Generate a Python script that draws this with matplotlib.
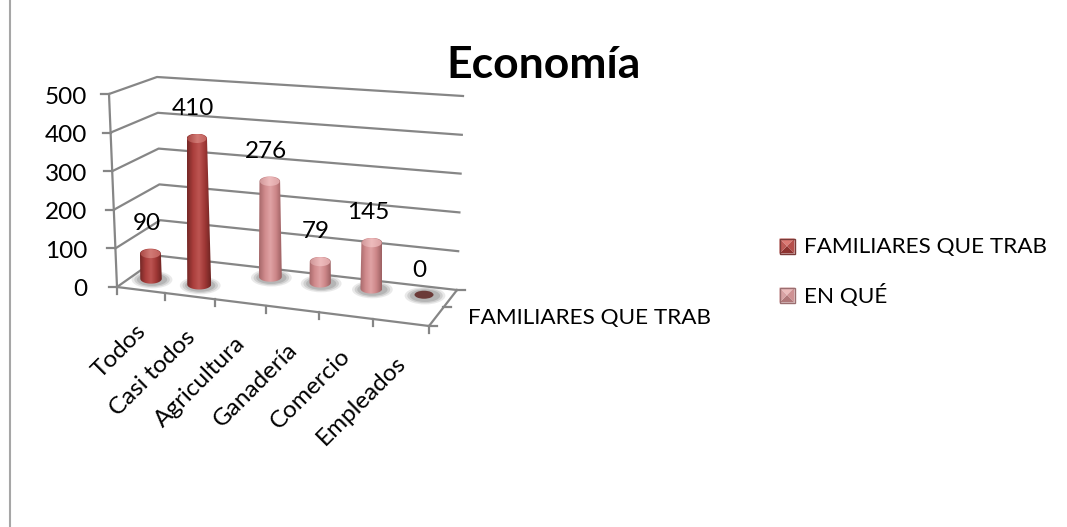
import numpy as np
import matplotlib
matplotlib.use("Agg")
import matplotlib.pyplot as plt
from matplotlib.colors import LinearSegmentedColormap
from matplotlib.patches import Ellipse, Polygon, PathPatch, Rectangle
from matplotlib.path import Path

plt.rcParams['font.family'] = ['Lato', 'DejaVu Sans']

categories = ["Todos", "Casi todos", "Agricultura", "Ganadería", "Comercio", "Empleados"]
familiares = [90, 410, None, None, None, None]
en_que = [None, None, 276, 79, 145, 0]
value_ticks = [0, 100, 200, 300, 400, 500]
series_names = ["FAMILIARES QUE TRAB", "EN QUÉ"]
depth_label = "FAMILIARES QUE TRAB"
title = "Economía"

GRID = "#868686"
DARK = ["#752826", "#aa3e3c", "#bd5552", "#a03836", "#6e2422"]
PINK = ["#a5686a", "#d08a8c", "#e0a3a5", "#cc8688", "#9c6062"]

W, H = 1067, 527
fig = plt.figure(figsize=(W / 100, H / 100), dpi=100)
ax = fig.add_axes([0, 0, 1, 1])

# corners of the 3d box in picture pixels
front_left = ((117, 287), (109, 94))
back_left = ((161, 256), (157, 77))
back_right = ((457, 290), (463, 96))
front_right = (429, 326)
MAXV = 500.0
PX_PER_UNIT = 0.378
SINK = 9


def wall(corner, v):
    a, b = np.array(corner[0], float), np.array(corner[1], float)
    return a + (b - a) * v / MAXV


def homography(pts):
    # unit square -> floor quad
    src = [(0, 0), (1, 0), (1, 1), (0, 1)]
    A, b = [], []
    for (x, y), (X, Y) in zip(src, pts):
        A.append([x, y, 1, 0, 0, 0, -x * X, -y * X])
        A.append([0, 0, 0, x, y, 1, -x * Y, -y * Y])
        b += [X, Y]
    return np.append(np.linalg.solve(np.array(A, float), np.array(b, float)), 1).reshape(3, 3)


FLOOR = homography([front_left[0], front_right, back_right[0], back_left[0]])


def floor(u, v):
    p = FLOOR @ np.array([u, v, 1.0])
    return p[:2] / p[2]


def gradient_patch(path, colors, x0, x1, y0, y1, zorder):
    ramp = LinearSegmentedColormap.from_list("r", colors)
    im = ax.imshow(np.linspace(0, 1, 64).reshape(1, -1), cmap=ramp, extent=(x0, x1, y1, y0),
                   aspect="auto", zorder=zorder, interpolation="bilinear")
    im.set_clip_path(PathPatch(path, transform=ax.transData))


def arc(cx, cy, rx, ry, start, stop, n=24):
    t = np.linspace(start, stop, n)
    return np.c_[cx + rx * np.cos(t), cy + ry * np.sin(t)]


def cylinder(cat, value, series, colors, zorder):
    depth = [0.33, 0.77][series]
    shift = [0.40, 0.5][series]
    bx, by = floor((cat + shift) / len(categories), depth)
    rx, ry = 10.5, 5
    # soft shadow on the floor
    for k, a in zip([1.75, 1.5, 1.25], [0.14, 0.2, 0.25]):
        ax.add_patch(Ellipse((bx + 1, by + 1), 2 * rx * k + 4, 2 * ry * k, fc="#6a6a6a", ec="none",
                             alpha=a, zorder=zorder))
    h = max(0, value * PX_PER_UNIT - SINK)
    if h == 0:
        ax.add_patch(Ellipse((bx, by), 2 * rx - 2, 2 * ry - 2, fc="#6b3a38", ec="none", zorder=zorder + 1))
        return bx - 1, by + 6
    tx = bx + (bx - 310) * 1.5e-4 * h
    ty = by - h
    top_rx = rx - h * 0.002
    bot_rx = rx + h * 0.01
    outline = np.vstack([arc(bx, by, bot_rx, ry, 0, np.pi), arc(tx, ty, top_rx, ry, np.pi, 2 * np.pi)])
    path = Path(np.vstack([outline, outline[:1]]), closed=True)
    gradient_patch(path, colors, bx - bot_rx, bx + bot_rx, ty - ry, by + ry, zorder + 1)
    cap_colors = ["#a84844", "#d27a75", "#c0605c"] if colors is DARK else ["#cf9597", "#eebcbd", "#dda3a5"]
    cap = arc(tx, ty, top_rx - 0.5, ry - 0.5, 0, 2 * np.pi, 40)
    gradient_patch(Path(cap, closed=True), cap_colors, tx - top_rx, tx + top_rx, ty - ry, ty + ry, zorder + 2)
    return tx, ty


# left page rule
ax.plot([10, 10], [0, H], color="#a6a6a6", lw=1.5, zorder=1)

# walls
for v in value_ticks:
    p0, p1, p2 = wall(front_left, v), wall(back_left, v), wall(back_right, v)
    ax.plot([p0[0], p1[0], p2[0]], [p0[1], p1[1], p2[1]], color=GRID, lw=1.6, zorder=2)
    ax.plot([p0[0] - 8, p0[0]], [p0[1], p0[1]], color=GRID, lw=1.6, zorder=2)
    ax.text(87, p0[1] + 3, str(v), ha="right", va="center", fontsize=17.5, color="black")

ax.plot(*zip(wall(front_left, 0), wall(front_left, MAXV)), color=GRID, lw=1.6, zorder=2)

# floor
fl, fr, br = front_left[0], front_right, back_right[0]
ax.plot([fl[0], fr[0], br[0]], [fl[1], fr[1], br[1]], color=GRID, lw=1.6, zorder=2)
ax.plot([br[0], br[0] + 8], [br[1], br[1]], color=GRID, lw=1.6, zorder=2)
mid = floor(1, 0.5)
ax.plot([mid[0], mid[0] + 8], [mid[1], mid[1]], color=GRID, lw=1.6, zorder=2)
ax.plot([fr[0], fr[0] + 8], [fr[1], fr[1]], color=GRID, lw=1.6, zorder=2)

for i in range(len(categories) + 1):
    p = floor(i / len(categories), 0)
    ax.plot([p[0], p[0]], [p[1], p[1] + 7], color=GRID, lw=1.6, zorder=2)

for i, name in enumerate(categories):
    p = floor((i + 0.5) / len(categories), 0)
    ax.text(p[0] - 6, p[1] + 30, name, rotation=45, rotation_mode="anchor", ha="right", va="top",
            fontsize=17.5, color="black")

# cylinders, back row first
for s, (vals, colors) in reversed(list(enumerate([(familiares, DARK), (en_que, PINK)]))):
    for i, val in enumerate(vals):
        if val is None:
            continue
        tx, ty = cylinder(i, val, s, colors, 5 + 5 * (1 - s))
        ax.text(tx - 4, ty - 30, str(val), ha="center", va="center", fontsize=17.5, color="black", zorder=30)

ax.text(468, 318, depth_label, ha="left", va="center", fontsize=16.2, color="black")
ax.text(544, 65, title, ha="center", va="center", fontsize=32, fontweight="bold", color="black")


# legend
def legend_key(x, y, s, base, edge):
    o = s / 2
    c = (x, y)
    corners = [(x - o, y - o), (x + o, y - o), (x + o, y + o), (x - o, y + o)]
    for j in range(4):
        ax.add_patch(Polygon([corners[j], corners[(j + 1) % 4], c], fc=base[j], ec="none", zorder=5))
    ax.add_patch(Rectangle((x - o, y - o), s, s, fc="none", ec=edge, lw=1.0, zorder=6))


legend_y = [246, 295]
legend_shades = [["#dd7a74", "#b54f4b", "#8e3330", "#bf5a56"], ["#ecbcbc", "#cf9294", "#b07779", "#d8a2a4"]]
legend_edges = ["#7a3a38", "#9a6e70"]
for y, name, shades, edge in zip(legend_y, series_names, legend_shades, legend_edges):
    legend_key(787, y, 15, shades, edge)
    ax.text(804, y + 1, name, ha="left", va="center", fontsize=16.2, color="black")

ax.set_xlim(0, W)
ax.set_ylim(H, 0)
ax.axis("off")
fig.savefig("out.png", dpi=100, facecolor="white")
